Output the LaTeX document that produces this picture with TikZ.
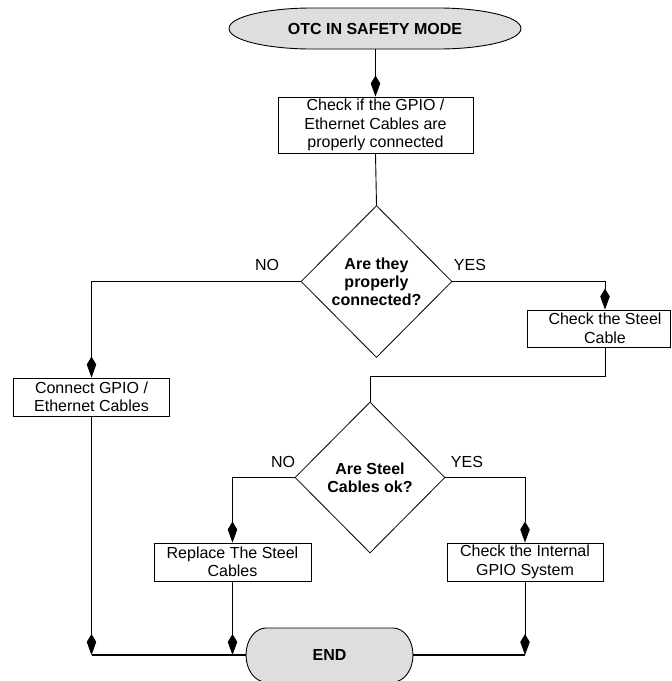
\documentclass[tikz,border=0pt]{standalone}
\usepackage{fontspec}
\setmainfont{Liberation Sans}
\usetikzlibrary{arrows.meta,shapes.geometric}
\definecolor{termgray}{RGB}{222,222,222}
\begin{document}
\begin{tikzpicture}[x=1pt,y=-1pt,
  every node/.style={font=\fontsize{16}{18.5}\selectfont},
  box/.style={draw, line width=0.9pt, rectangle, align=center, inner sep=0pt},
  decision/.style={draw, diamond, aspect=1, align=center, inner sep=0pt, line width=0.8pt,
    font=\bfseries\fontsize{16}{17.8}\selectfont},
  termtext/.style={inner sep=0pt, font=\bfseries\fontsize{16}{18}\selectfont},
  termshape/.style={draw, line width=0.9pt, fill=termgray},
  conn/.style={line width=0.9pt},
  arr/.style={line width=0.9pt, -{Kite[length=21pt,width=9.5pt,inset=8pt]}},
  thickline/.style={line width=2.2pt},
  lab/.style={inner sep=0pt}
]
\useasboundingbox (0,0) rectangle (672,681);

% terminal shapes
\draw[termshape] (229,28.5) .. controls (229,16) and (271,8) .. (311,8) -- (439,8)
  .. controls (479,8) and (521,16) .. (521,28.5) .. controls (521,41) and (479,49) .. (439,49)
  -- (311,49) .. controls (271,49) and (229,41) .. (229,28.5) -- cycle;
\draw[termshape] (246,655) .. controls (246,640) and (255,628) .. (266,628) -- (393,628)
  .. controls (404,628) and (413,640) .. (413,655) .. controls (413,670) and (404,682) .. (393,682)
  -- (266,682) .. controls (255,682) and (246,670) .. (246,655) -- cycle;

% nodes
\node[termtext, minimum width=292, minimum height=41] (start) at (375,28.5) {OTC IN SAFETY MODE};
\node[box, minimum width=195, minimum height=56] (box1) at (375.5,125)
  {Check if the GPIO /\\Ethernet Cables are\\properly connected};
\node[decision, minimum width=151, minimum height=152] (d1) at (376.5,281.5)
  {Are they\\properly\\connected?};
\node[box, minimum width=156, minimum height=38] (cgpio) at (91.5,397)
  {Connect GPIO /\\Ethernet Cables};
\node[box, minimum width=143, minimum height=37] (steel) at (598.5,328.5) {};
\node[lab, align=center] (steeltxt) at (605,328.5) {Check the Steel\\Cable};
\coordinate (sx) at (605,328.5);
\coordinate (j2) at (370,376);
\node[decision, minimum width=150, minimum height=151] (d2) at (370,477.5)
  {Are Steel\\Cables ok?};
\node[box, minimum width=157, minimum height=38] (repl) at (232.5,562)
  {Replace The Steel\\Cables};
\node[box, minimum width=156, minimum height=38] (intl) at (525,562)
  {Check the Internal\\GPIO System};
\node[termtext, minimum width=167, minimum height=54] (end) at (329.5,655) {END};

% labels
\node[lab] (no1) at (267,265) {NO};
\node[lab] (yes1) at (470,265) {YES};
\node[lab] (no2) at (283,462) {NO};
\node[lab] (yes2) at (467,462) {YES};

% connectors
\draw[arr] (start.south -| box1.north) -- (box1.north);
\draw[conn] (box1.south) -- (d1.north);
\draw[arr] (d1.west) -| (cgpio.north);
\draw[arr] (d1.east) -| (sx |- steel.north);
\draw[conn] (sx |- steel.south) |- (j2) -- (d2.north);
\draw[arr] (d2.west) -| (repl.north);
\draw[arr] (d2.east) -| (intl.north);
\draw[arr] (cgpio.south) -- (cgpio.south |- end.west);
\draw[arr] (repl.south) -- (repl.south |- end.west);
\draw[arr] (intl.south) -- (intl.south |- end.west);
\draw[thickline] (cgpio.south |- end.west) -- (end.west);
\draw[thickline] (end.east) -- (intl.south |- end.east);
\end{tikzpicture}
\end{document}
